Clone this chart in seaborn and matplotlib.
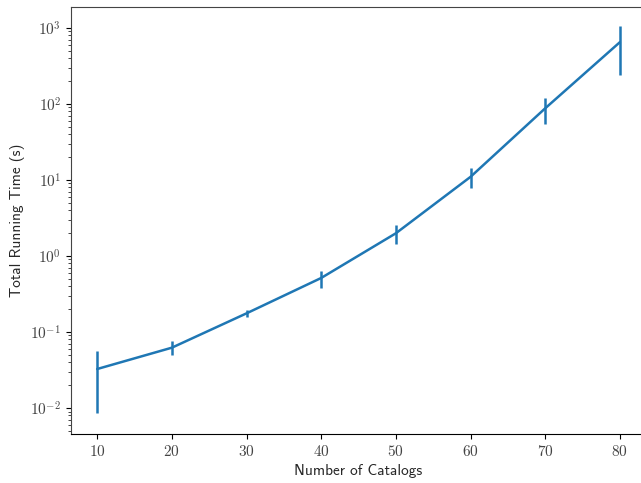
import numpy as np
import pandas as pd
import seaborn as sns
import matplotlib
matplotlib.use("Agg")
import matplotlib.pyplot as plt

# catalogs vs running time (mean, spread)
n_catalogs = [10, 20, 30, 40, 50, 60, 70, 80]
run_time = [0.0326, 0.0622, 0.176, 0.514, 1.99, 11.0, 87.7, 650.0]
run_err = [0.024, 0.013, 0.017, 0.13, 0.55, 3.2, 33.0, 410.0]

sns.set_style("ticks")
plt.rcParams["font.family"] = ["cmr10", "DejaVu Sans"]
plt.rcParams["mathtext.fontset"] = "cm"
plt.rcParams["axes.formatter.use_mathtext"] = True

df = pd.DataFrame({"catalogs": n_catalogs, "time": run_time, "err": run_err})

fig = plt.figure(figsize=(6.41, 4.83), dpi=100)
ax = fig.add_axes([0.1108, 0.1014, 0.897, 0.8841])

blue = "#1f77b4"
sns.lineplot(data=df, x="catalogs", y="time", color=blue, lw=1.8, ax=ax)
ax.errorbar(df["catalogs"], df["time"], yerr=df["err"], fmt="none",
            ecolor=blue, elinewidth=1.8, capsize=0)

ax.set_yscale("log")
ax.set_ylim(0.00455, 1888)
ax.set_xlim(6.5, 83.5)
ax.set_xticks(n_catalogs)

ax.set_xlabel("Number of Catalogs", family="cmss10", fontsize=11)
ax.set_ylabel("Total Running Time (s)", family="cmss10", fontsize=11)
ax.tick_params(axis="both", labelsize=11, colors="black", labelcolor="#444444")
for s in ax.spines.values():
    s.set_color("black")
ax.spines["left"].set_color("#444444")
ax.spines["top"].set_color("#444444")

fig.savefig("out.png", dpi=100)
